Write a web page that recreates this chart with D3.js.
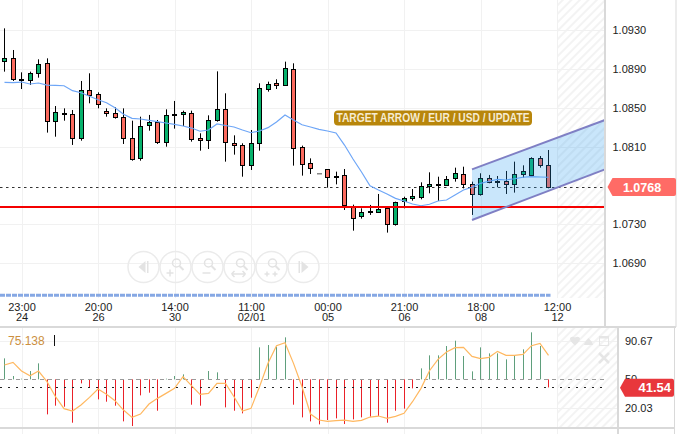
<!DOCTYPE html>
<html>
<head>
<meta charset="utf-8">
<script src="https://cdn.jsdelivr.net/npm/d3@7"></script>
<style>
  html, body { margin: 0; padding: 0; background: #fff; }
  svg { display: block; font-family: "Liberation Sans", Arial, sans-serif; }
</style>
</head>
<body>
<svg id="chart" width="694" height="434"></svg>
<script>
// candle values, one row per bar: open, high, low, close
const candles = [
  [1.08974,1.09317,1.08871,1.09008],[1.09008,1.09094,1.08775,1.08792],[1.08792,1.08864,1.08692,1.08778],
  [1.08778,1.08871,1.08734,1.08854],[1.08854,1.08998,1.08809,1.08946],[1.08957,1.09008,1.08243,1.08359],
  [1.08359,1.08517,1.08201,1.08452],[1.08442,1.08493,1.08366,1.08428],[1.08431,1.08476,1.08116,1.08184],
  [1.08184,1.08775,1.08160,1.08679],[1.08679,1.08854,1.08545,1.08624],[1.08637,1.08658,1.08493,1.08531],
  [1.08462,1.08493,1.08407,1.08438],[1.08442,1.08504,1.08387,1.08397],[1.08401,1.08493,1.08126,1.08184],
  [1.08184,1.08366,1.07954,1.07968],[1.07978,1.08407,1.07954,1.08308],[1.08315,1.08425,1.08263,1.08349],
  [1.08349,1.08373,1.08126,1.08140],[1.08140,1.08483,1.08098,1.08421],[1.08431,1.08569,1.08284,1.08418],
  [1.08428,1.08469,1.08311,1.08452],[1.08442,1.08469,1.08150,1.08174],[1.08188,1.08236,1.08057,1.08164],
  [1.08164,1.08421,1.08074,1.08370],[1.08366,1.08874,1.08356,1.08483],[1.08483,1.08648,1.07944,1.08143],
  [1.08133,1.08215,1.08016,1.08109],[1.08112,1.08133,1.07789,1.07903],[1.07903,1.08270,1.07858,1.08133],
  [1.08133,1.08751,1.08057,1.08699],[1.08685,1.08768,1.08665,1.08740],[1.08751,1.08792,1.08692,1.08727],
  [1.08727,1.08974,1.08727,1.08905],[1.08895,1.08957,1.07903,1.08081],[1.08092,1.08109,1.07800,1.07913],
  [1.07927,1.07978,1.07817,1.07875],[1.07831,1.07831,1.07831,1.07831],[1.07865,1.07868,1.07676,1.07779],
  [1.07793,1.07841,1.07710,1.07779],[1.07803,1.07868,1.07446,1.07491],[1.07491,1.07501,1.07233,1.07371],
  [1.07377,1.07463,1.07357,1.07422],[1.07432,1.07498,1.07395,1.07419],[1.07419,1.07611,1.07419,1.07453],
  [1.07467,1.07480,1.07213,1.07305],[1.07295,1.07532,1.07285,1.07525],[1.07532,1.07583,1.07463,1.07566],
  [1.07566,1.07662,1.07542,1.07590],[1.07573,1.07731,1.07556,1.07690],[1.07690,1.07834,1.07618,1.07710],
  [1.07710,1.07789,1.07539,1.07704],[1.07707,1.07796,1.07693,1.07769],[1.07769,1.07882,1.07738,1.07824],
  [1.07813,1.07892,1.07669,1.07707],[1.07710,1.07738,1.07395,1.07604],[1.07604,1.07824,1.07594,1.07772],
  [1.07772,1.07807,1.07721,1.07728],[1.07741,1.07796,1.07680,1.07734],[1.07741,1.07848,1.07611,1.07707],
  [1.07707,1.07944,1.07625,1.07813],[1.07810,1.07906,1.07779,1.07844],[1.07800,1.07989,1.07796,1.07978],
  [1.07978,1.08002,1.07882,1.07903],[1.07906,1.08064,1.07669,1.07676]
];
const maValues = [
  1.08761,1.08757,1.08764,1.08744,1.08754,1.08733,1.08730,1.08726,1.08675,1.08654,1.08617,1.08582,1.08551,
  1.08500,1.08432,1.08390,1.08383,1.08370,1.08357,1.08342,1.08327,1.08311,1.08290,1.08257,1.08270,1.08332,
  1.08316,1.08301,1.08270,1.08242,1.08260,1.08294,1.08352,1.08424,1.08373,1.08324,1.08301,1.08277,1.08260,
  1.08239,1.08115,1.07971,1.07837,1.07696,1.07652,1.07611,1.07566,1.07539,1.07508,1.07490,1.07505,1.07539,
  1.07549,1.07600,1.07652,1.07680,1.07721,1.07742,1.07762,1.07755,1.07768,1.07783,1.07789,1.07786,1.07783
];
const histValues = [
  71.98,53.49,50.7,58.72,66.75,13.37,22.44,21.39,4.64,45.81,41.28,29.07,26.62,22.44,6.04,1.15,33.25,36.04,
  17.2,50.7,53.49,55.23,23.48,22.44,58.72,57.33,20.69,17.2,14.41,30.81,83.49,85.94,84.19,93.96,23.48,10.22,
  6.04,2.9,7.43,9.18,3.25,8.13,10.22,10.92,11.62,4.64,17.2,19.3,40.58,61.51,75.12,75.12,84.89,90.47,74.42,
  58.37,83.49,77.21,77.21,70.93,74.77,81.4,99.2,84.89,41.54
];
const signalValues = [
  65,67.79,58.72,53.84,58.72,47.56,31.86,19.3,16.85,23.13,31.16,39.88,34.3,27.67,17.9,10.22,13.71,24.18,
  30.11,35.35,40.58,52.79,43.37,34.3,35.35,45.81,45.81,31.86,16.85,19.65,42.32,66.75,85.24,88.38,66.75,42.32,
  13.71,7.43,6.04,6.74,7.43,6.04,7.08,10.57,11.62,9.18,11.27,14.41,26.62,40.58,59.07,70.93,78.61,83.15,83.49,
  74.07,71.63,73.03,79.31,75.12,75.12,76.17,85.24,87.68,75.12
];
const priceTicks = [1.0930, 1.0890, 1.0850, 1.0810, 1.0730, 1.0690];
const indicatorTicks = [90.67, 50, 20.03];
const timeTickIndex = [2, 11, 20, 29, 38, 47, 56, 65];
const timeLabels = [["23:00","24"],["20:00","26"],["14:00","30"],["11:00","02/01"],["00:00","05"],["21:00","06"],["18:00","08"],["12:00","12"]];
const channelTop = [[55, 1.07865], [70.65, 1.08373]];
const channelBottom = [[55, 1.07343], [70.65, 1.07865]];
const redLevel = 1.07477;
const lastPrice = 1.0768;
const lastHist = 41.54;
const signalLabel = "75.138";
const annotation = "TARGET ARROW / EUR / USD / UPDATE";

const svg = d3.select("#chart");
const GRID = "#f1f1f1", BORDER = "#d9d9d9", MUTED = "#e6e6e6";
const PLOT_R = 605, HATCH_L = 557;

const x = d3.scaleLinear().domain([0, 64]).range([4.5, 548.5]);
const yPrice = d3.scaleLinear().domain([1.0690, 1.0930]).range([263, 30]);
const yInd = d3.scaleLinear().domain([20.03, 90.67]).range([408, 340.5]);
const crisp = v => Math.round(v) + 0.5;

// hatch pattern for the empty area past the last bar
const defs = svg.append("defs");
defs.append("pattern")
  .attr("id", "hatch").attr("width", 6).attr("height", 6)
  .attr("patternUnits", "userSpaceOnUse").attr("patternTransform", "rotate(-45)")
  .append("line").attr("x1", 0).attr("x2", 6).attr("y1", 2).attr("y2", 2)
  .attr("stroke", "#eeeeee").attr("stroke-width", 1.4);

svg.append("rect").attr("x", HATCH_L).attr("y", 0).attr("width", PLOT_R - HATCH_L).attr("height", 298).attr("fill", "url(#hatch)");
svg.append("rect").attr("x", HATCH_L).attr("y", 328).attr("width", 617 - HATCH_L).attr("height", 100).attr("fill", "url(#hatch)");

// grid
const grid = svg.append("g").attr("stroke", GRID).attr("stroke-width", 1);
grid.selectAll(".h").data(priceTicks).join("line")
  .attr("x1", 0).attr("x2", PLOT_R).attr("y1", d => crisp(yPrice(d))).attr("y2", d => crisp(yPrice(d)));
grid.selectAll(".v").data(timeTickIndex).join("line")
  .attr("x1", d => crisp(x(d))).attr("x2", d => crisp(x(d))).attr("y1", 0).attr("y2", 298);
grid.selectAll(".v2").data(timeTickIndex).join("line")
  .attr("x1", d => crisp(x(d))).attr("x2", d => crisp(x(d))).attr("y1", 328).attr("y2", 434);
grid.selectAll(".h2").data([90.67, 20.03]).join("line")
  .attr("x1", 0).attr("x2", 617).attr("y1", d => crisp(yInd(d))).attr("y2", d => crisp(yInd(d)));

// nav buttons
const navX = [143.5, 175.5, 207.5, 239.5, 271.5, 303.5];
const nav = svg.append("g").selectAll("g").data(navX).join("g").attr("transform", d => `translate(${d},267)`);
nav.append("circle").attr("r", 15.5).attr("fill", "none").attr("stroke", "#ebebeb").attr("stroke-width", 1.5);
nav.each(function (d, i) {
  const g = d3.select(this);
  const c = "#e3e3e3";
  if (i === 0 || i === 5) {
    const s = i === 0 ? 1 : -1;
    g.append("path").attr("d", `M${-5 * s},0 L${2 * s},-6 L${2 * s},6 Z`).attr("fill", c);
    g.append("rect").attr("x", i === 0 ? 3.5 : -5).attr("y", -6).attr("width", 1.5).attr("height", 12).attr("fill", c);
  } else {
    g.append("circle").attr("cx", 1).attr("cy", -4).attr("r", 4).attr("fill", "none").attr("stroke", c).attr("stroke-width", 1.5);
    g.append("line").attr("x1", 4).attr("y1", -1).attr("x2", 8).attr("y2", 3).attr("stroke", c).attr("stroke-width", 2);
    const sign = ["", "M-9,6 h7 M-5.5,2.5 v7", "M-5,6 h8", "M-8,7 h14 M-8,7 l3,-3 M-8,7 l3,3 M6,7 l-3,-3 M6,7 l-3,3", "M-7,7 h5 M-4.5,4.5 v5 M1,7 h5 M3.5,4.5 v5"][i];
    g.append("path").attr("d", sign).attr("fill", "none").attr("stroke", c).attr("stroke-width", 1.5);
  }
});

// blue bar under the plot
svg.append("line").attr("x1", 0).attr("x2", x(64) + 2).attr("y1", 295.3).attr("y2", 295.3)
  .attr("stroke", "#86a8e4").attr("stroke-width", 3).attr("stroke-dasharray", "5,1");

// last price dotted line
svg.append("line").attr("x1", 0).attr("x2", PLOT_R).attr("y1", crisp(yPrice(lastPrice))).attr("y2", crisp(yPrice(lastPrice)))
  .attr("stroke", "#333").attr("stroke-dasharray", "2.5,3.5");

// candles
const candleG = svg.append("g").selectAll("g").data(candles).join("g");
candleG.append("line")
  .attr("x1", (d, i) => crisp(x(i) - 0.5)).attr("x2", (d, i) => crisp(x(i) - 0.5))
  .attr("y1", d => yPrice(d[1])).attr("y2", d => yPrice(d[2]))
  .attr("stroke", "#000").attr("stroke-width", 1);
candleG.append("rect")
  .attr("x", (d, i) => crisp(x(i) - 0.5) - 2)
  .attr("width", 4)
  .attr("y", d => Math.round(yPrice(Math.max(d[0], d[3]))) + 0.5)
  .attr("height", d => Math.max(0.5, Math.round(Math.abs(yPrice(d[0]) - yPrice(d[3])))))
  .attr("fill", d => d[3] >= d[0] ? "#07b26c" : "#fb6a5e")
  .attr("stroke", (d, i) => d[1] === d[2] ? "#888" : "#000")
  .attr("stroke-width", 1);

// moving average
svg.append("path").datum(maValues)
  .attr("fill", "none").attr("stroke", "#6ea6f7").attr("stroke-width", 1.2)
  .attr("d", d3.line().x((d, i) => x(i)).y(d => yPrice(d)));

// channel
const channelPts = channelTop.concat(channelBottom.slice().reverse());
const chLine = d3.line().x(d => Math.min(x(d[0]), PLOT_R)).y(d => yPrice(d[1]));
svg.append("path").attr("d", chLine(channelPts) + "Z").attr("fill", "#279df0").attr("fill-opacity", 0.25);

// red level
svg.append("line").attr("x1", 0).attr("x2", PLOT_R).attr("y1", yPrice(redLevel)).attr("y2", yPrice(redLevel))
  .attr("stroke", "#f40000").attr("stroke-width", 2);

svg.append("path").attr("d", chLine(channelTop)).attr("fill", "none").attr("stroke", "#7f7fc4").attr("stroke-width", 2);
svg.append("path").attr("d", chLine(channelBottom)).attr("fill", "none").attr("stroke", "#7f7fc4").attr("stroke-width", 2);

// annotation
svg.append("rect").attr("x", 334).attr("y", 110.5).attr("width", 198).attr("height", 15).attr("rx", 4).attr("fill", "#b8860b");
svg.append("text").attr("x", 433).attr("y", 122.3).attr("text-anchor", "middle")
  .attr("font-size", 12).attr("font-weight", "bold").attr("fill", "#f6ecd2")
  .attr("textLength", 193).attr("lengthAdjust", "spacingAndGlyphs")
  .text(annotation);

// panel borders
const border = svg.append("g").attr("stroke", BORDER).attr("stroke-width", 2);
border.append("line").attr("x1", 0).attr("x2", 676).attr("y1", 327).attr("y2", 327);
border.append("line").attr("x1", 0).attr("x2", 675).attr("y1", 428).attr("y2", 428);
border.append("line").attr("x1", PLOT_R).attr("x2", PLOT_R).attr("y1", 0).attr("y2", 327);
border.append("line").attr("x1", 618).attr("x2", 618).attr("y1", 327).attr("y2", 434);
border.append("line").attr("x1", 676).attr("x2", 676).attr("y1", 0).attr("y2", 327).attr("stroke-width", 1);
border.append("line").attr("x1", 674.5).attr("x2", 674.5).attr("y1", 327).attr("y2", 434).attr("stroke-width", 1);

// price axis
const priceAxis = svg.append("g").attr("transform", "translate(606,0)")
  .call(d3.axisRight(yPrice).tickValues(priceTicks).tickSize(0).tickPadding(6.5).tickFormat(d3.format(".4f")));
priceAxis.select(".domain").remove();

// time axis, two line labels
const timeAxis = svg.append("g").attr("transform", "translate(0,300)")
  .call(d3.axisBottom(x).tickValues(timeTickIndex).tickSize(0).tickPadding(0).tickFormat(""));
timeAxis.select(".domain").remove();
timeAxis.selectAll(".tick text").each(function (d, i) {
  const t = d3.select(this).attr("y", 0).attr("dy", null);
  t.append("tspan").attr("x", 0).attr("y", 11).text(timeLabels[i][0]);
  t.append("tspan").attr("x", 0).attr("y", 21).text(timeLabels[i][1]);
});

// indicator bars
svg.append("g").selectAll("line").data(histValues).join("line")
  .attr("x1", (d, i) => crisp(x(i) - 0.5)).attr("x2", (d, i) => crisp(x(i) - 0.5))
  .attr("y1", yInd(50)).attr("y2", d => yInd(d))
  .attr("stroke", d => d >= 50 ? "#5f9f7c" : "#ea2129").attr("stroke-width", 1);

// indicator reference lines
svg.append("line").attr("x1", 0).attr("x2", 607).attr("y1", crisp(yInd(50))).attr("y2", crisp(yInd(50)))
  .attr("stroke", "#9a9a9a").attr("stroke-dasharray", "4,4");
svg.append("line").attr("x1", 0).attr("x2", 607).attr("y1", crisp(yInd(lastHist))).attr("y2", crisp(yInd(lastHist)))
  .attr("stroke", "#222").attr("stroke-dasharray", "2,6");

// signal line
svg.append("path").datum(signalValues)
  .attr("fill", "none").attr("stroke", "#ffb860").attr("stroke-width", 1.2)
  .attr("d", d3.line().x((d, i) => x(i)).y(d => yInd(d)));

// indicator axis
const indAxis = svg.append("g").attr("transform", "translate(619,0)")
  .call(d3.axisRight(yInd).tickValues(indicatorTicks).tickSize(0).tickPadding(6).tickFormat(d => d));
indAxis.select(".domain").remove();

[priceAxis, timeAxis, indAxis].forEach(a => a.selectAll("text")
  .attr("font-family", "'Liberation Sans', Arial, sans-serif").attr("font-size", 11).attr("fill", "#1c1c1c"));

// signal readout
svg.append("text").attr("x", 8).attr("y", 345).attr("font-size", 12).attr("fill", "#cc8f3f").text(signalLabel);
svg.append("line").attr("x1", 54.5).attr("x2", 54.5).attr("y1", 335).attr("y2", 346).attr("stroke", "#111");

// value tags
function tag(xl, xr, cy, h, fill) {
  const p = d3.path();
  const top = cy - h / 2, bot = cy + h / 2;
  p.moveTo(xl + 5, top);
  p.lineTo(xr - 2, top);
  p.quadraticCurveTo(xr, top, xr, top + 2);
  p.lineTo(xr, bot - 2);
  p.quadraticCurveTo(xr, bot, xr - 2, bot);
  p.lineTo(xl + 5, bot);
  p.lineTo(xl, cy);
  p.closePath();
  svg.append("path").attr("d", p.toString()).attr("fill", fill);
}
tag(607.5, 676, yPrice(lastPrice) - 0.3, 18, "#ff6b66");
svg.append("text").attr("x", 642).attr("y", yPrice(lastPrice) + 4.5).attr("text-anchor", "middle")
  .attr("font-size", 12.5).attr("font-weight", "bold").attr("fill", "#fff").text(lastPrice.toFixed(4));
tag(620, 674, 387.7, 18, "#e8373c");
svg.append("text").attr("x", 671).attr("y", 392).attr("text-anchor", "end")
  .attr("font-size", 13).attr("font-weight", "bold").attr("fill", "#fff").text(lastHist);

// indicator window icons
const icons = svg.append("g").attr("fill", MUTED);
icons.append("path").attr("d", "M570,338 q2.5,-2 5,-0.5 q2.5,-1.5 5,0.5 q0.5,3 -5,7.5 q-5.5,-4.5 -5,-7.5Z");
icons.append("path").attr("d", "M584,345 l1,-3 l3.5,-4 l3.5,4 l1,3 Z");
icons.append("rect").attr("x", 599.5).attr("y", 336.5).attr("width", 9).attr("height", 9).attr("fill", "none").attr("stroke", MUTED);
icons.append("rect").attr("x", 599.5).attr("y", 336.5).attr("width", 9).attr("height", 2);
icons.append("path").attr("d", "M599,353 L609,363 M609,353 L599,363").attr("stroke", MUTED).attr("stroke-width", 2.5);
</script>
</body>
</html>
